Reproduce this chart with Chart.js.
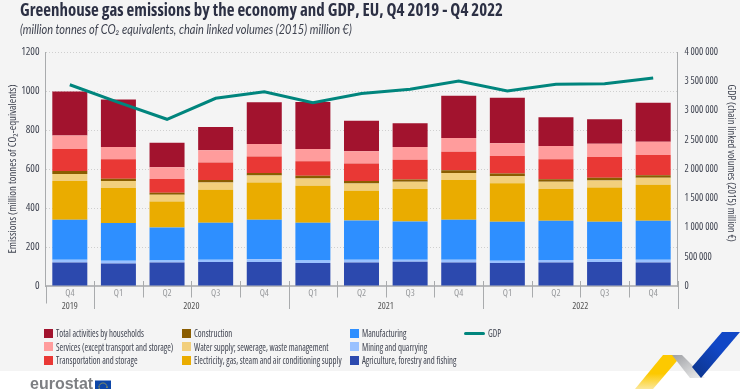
<!DOCTYPE html>
<html>
<head>
<meta charset="utf-8">
<title>Greenhouse gas emissions by the economy and GDP, EU</title>
<script src="https://cdn.jsdelivr.net/npm/chart.js@4"></script>
<style>
  html, body { margin: 0; padding: 0; background: #fff; }
  #page { position: relative; width: 740px; height: 389px; overflow: hidden; background: #fff; font-family: "Open Sans", sans-serif; font-stretch: condensed; color: #3f4350; }
  #panel { position: absolute; left: 0; top: 0; width: 740px; height: 371px; background: #f4f4f4; }
  #chart { position: absolute; left: 0; top: 0; }
  h1 { position: absolute; left: 20px; top: -3px; margin: 0; font-size: 18.5px; line-height: 24px; font-weight: bold; color: #2c3044; white-space: nowrap; transform: scaleX(0.913); transform-origin: left center; }
  #sub { position: absolute; left: 20px; top: 22px; font-family: "Lato", sans-serif; font-stretch: normal; font-style: italic; font-size: 12.5px; line-height: 16px; color: #3f4350; white-space: nowrap; transform: scaleX(0.883); transform-origin: left center; }
  .item { position: absolute; font-size: 10.3px; line-height: 12px; white-space: nowrap; transform: scaleX(0.85); transform-origin: left center; }
  .swatch { position: absolute; width: 9px; height: 9px; }
  .dash { position: absolute; width: 21px; height: 2.5px; border-radius: 2px; }
  #logo { position: absolute; left: 30px; top: 374px; font-family: "Liberation Sans", sans-serif; font-stretch: normal; font-weight: bold; font-size: 16px; line-height: 20px; color: #7d7f83; }
  #art { position: absolute; left: 0; top: 0; }
</style>
</head>
<body>
<div id="page">
  <div id="panel"></div>
  <svg id="art" width="740" height="389">
    <defs>
      <linearGradient id="fade" x1="0" y1="0" x2="0" y2="1">
        <stop offset="0.55" stop-color="#fdc900"/><stop offset="1" stop-color="#fbe79a"/>
      </linearGradient>
      <linearGradient id="grey" x1="0" y1="0" x2="1" y2="1">
        <stop offset="0" stop-color="#9d9fa3"/><stop offset="1" stop-color="#f1f1f1"/>
      </linearGradient>
      <linearGradient id="blue" x1="1" y1="0" x2="0" y2="1">
        <stop offset="0.4" stop-color="#1147c6"/><stop offset="1" stop-color="#0d3488"/>
      </linearGradient>
    </defs>
    <polygon points="635,389 663,355 682,355 653,389" fill="url(#fade)"/>
    <polygon points="672,355 682,355 705,378 690,378" fill="url(#grey)"/>
    <polygon points="722,332 740,332 701,378 692,367" fill="url(#blue)"/>
    <rect x="95" y="380.5" width="16" height="9" fill="#0e47a8"/>
    <circle cx="103" cy="387" r="4" fill="none" stroke="#ffd617" stroke-width="1" stroke-dasharray="1 1.1"/>
  </svg>
  <canvas id="chart" width="740" height="389"></canvas>
  <h1>Greenhouse gas emissions by the economy and GDP, EU, Q4 2019 - Q4 2022</h1>
  <div id="sub">(million tonnes of CO₂ equivalents, chain linked volumes (2015) million €)</div>
  <div id="legend"></div>
  <div id="logo">eurostat</div>
</div>
<script>
const quarters = ["Q4", "Q1", "Q2", "Q3", "Q4", "Q1", "Q2", "Q3", "Q4", "Q1", "Q2", "Q3", "Q4"];
const years = ["2019", "2020", "2020", "2020", "2020", "2021", "2021", "2021", "2021", "2022", "2022", "2022", "2022"];

const agriculture = [121, 116, 121, 123, 123, 118, 121, 125, 121, 118, 121, 123, 121];
const mining = [14, 14, 10, 12, 14, 13, 14, 10, 14, 12, 12, 14, 14];
const manufacturing = [205, 193, 169, 189, 203, 193, 201, 196, 205, 199, 202, 192, 200];
const electricity = [199, 179, 133, 169, 191, 190, 152, 167, 204, 198, 163, 176, 184];
const water = [36, 37, 35, 38, 36, 37, 38, 36, 36, 36, 36, 36, 36];
const construction = [15, 11, 10, 12, 13, 14, 12, 12, 14, 14, 14, 14, 13];
const transport = [113, 100, 71, 90, 84, 75, 90, 101, 95, 90, 102, 107, 104];
const services = [69, 63, 60, 63, 64, 63, 63, 66, 70, 65, 68, 68, 68];
const households = [226, 244, 126, 119, 214, 240, 157, 121, 217, 234, 147, 125, 200];
const gdp = [3440000, 3140000, 2850000, 3208000, 3320000, 3133000, 3290000, 3362000, 3503000, 3332000, 3447000, 3457000, 3555000];

const barSeries = [
  { label: "Agriculture, forestry and fishing", data: agriculture, color: "#2c49ae" },
  { label: "Mining and quarrying", data: mining, color: "#99c1ff" },
  { label: "Manufacturing", data: manufacturing, color: "#2e8fff" },
  { label: "Electricity, gas, steam and air conditioning supply", data: electricity, color: "#eaac00" },
  { label: "Water supply; sewerage, waste management", data: water, color: "#f2cf7c" },
  { label: "Construction", data: construction, color: "#8a5d00" },
  { label: "Transportation and storage", data: transport, color: "#e93835" },
  { label: "Services (except transport and storage)", data: services, color: "#ff9c9c" },
  { label: "Total activities by households", data: households, color: "#a2132e" }
];

// "condensed" goes into the font shorthand through weight, chart.js only checks style
const axisFamily = "'Open Sans', sans-serif";
const axisFont = { family: axisFamily, size: 10.8, weight: "condensed" };
const gdpTickFont = { family: axisFamily, size: 10, weight: "condensed" };
const gdpTitleFont = { family: axisFamily, size: 10.4, weight: "condensed" };
const quarterFont = { family: axisFamily, size: 9.5, weight: "condensed" };
const axisGrey = "#a9abad";

// separators under the axis and the year row
const yearRows = {
  id: "yearRows",
  afterDraw(chart) {
    const ctx = chart.ctx;
    const x = chart.scales.x;
    const step = x.getPixelForTick(1) - x.getPixelForTick(0);
    function sep(px, y0, y1) {
      ctx.beginPath();
      ctx.moveTo(Math.round(px) + 0.5, y0);
      ctx.lineTo(Math.round(px) + 0.5, y1);
      ctx.stroke();
    }
    ctx.save();
    ctx.font = "condensed 9.5px " + axisFamily;
    ctx.fillStyle = "#555";
    ctx.textAlign = "center";
    ctx.textBaseline = "middle";
    ctx.strokeStyle = axisGrey;
    ctx.lineWidth = 1;
    sep(x.left, 286, 303.5);
    let start = 0;
    years.forEach((y, i) => {
      const last = i === years.length - 1 || years[i + 1] !== y;
      sep(x.getPixelForTick(i) + step / 2, 281, last ? 309 : 297.5);
      if (!last) return;
      ctx.fillText(y, (x.getPixelForTick(start) + x.getPixelForTick(i)) / 2, 306.5);
      start = i + 1;
    });
    ctx.restore();
  }
};

const datasets = [
  {
    type: "line",
    label: "GDP",
    data: gdp,
    yAxisID: "y2",
    borderColor: "#00857d",
    borderWidth: 3,
    pointRadius: 0,
    tension: 0,
    order: 0
  }
];
barSeries.forEach(s => {
  datasets.push({
    type: "bar",
    label: s.label,
    data: s.data,
    backgroundColor: s.color,
    yAxisID: "y",
    stack: "emissions",
    categoryPercentage: 1,
    barPercentage: 0.72,
    order: 1
  });
});

new Chart(document.getElementById("chart"), {
  data: { labels: quarters, datasets: datasets },
  options: {
    responsive: false,
    animation: false,
    layout: { padding: { top: 52 } },
    plugins: { legend: { display: false }, title: { display: false }, tooltip: { enabled: false } },
    scales: {
      x: {
        stacked: true,
        offset: true,
        afterFit: s => { s.height = 103; },
        border: { color: "#b9babc", width: 2 },
        grid: { offset: true, drawOnChartArea: false, drawTicks: false },
        ticks: { color: "#97999c", padding: 2, maxRotation: 0, autoSkip: false, font: quarterFont }
      },
      y: {
        stacked: true,
        min: 0,
        max: 1200,
        position: "left",
        afterFit: s => { s.width = 45.5; },
        border: { color: axisGrey, width: 1, dash: [1, 2] },
        grid: { color: "#cfcfcf", drawTicks: false },
        ticks: { stepSize: 200, color: "#3f4350", padding: 6, font: axisFont, callback: v => String(v) },
        title: { display: true, text: "Emissions (million tonnes of CO₂-equivalents)", color: "#3f4350", padding: { top: 6, bottom: 0 }, font: axisFont }
      },
      y2: {
        min: 0,
        max: 4000000,
        position: "right",
        afterFit: s => { s.width = 62.5; },
        border: { color: axisGrey, width: 1 },
        grid: { drawOnChartArea: false, drawTicks: false },
        ticks: {
          stepSize: 500000,
          color: "#3f4350",
          padding: 7,
          font: gdpTickFont,
          callback: v => String(v).replace(/\B(?=(\d{3})+$)/g, " ")
        },
        // trailing spaces move the centred title up to where the original has it
        title: { display: true, text: "GDP (chain linked volumes (2015) million €)\u00a0\u00a0\u00a0\u00a0\u00a0\u00a0", color: "#3f4350", padding: { top: 3, bottom: 0 }, font: gdpTitleFont }
      }
    }
  },
  plugins: [yearRows]
});

// legend is laid out in columns, top to bottom
const legendColumns = [
  { x: 44, names: ["Total activities by households", "Services (except transport and storage)", "Transportation and storage"] },
  { x: 181.5, names: ["Construction", "Water supply; sewerage, waste management", "Electricity, gas, steam and air conditioning supply"] },
  { x: 350, names: ["Manufacturing", "Mining and quarrying", "Agriculture, forestry and fishing"] }
];
const rowY = [333, 346.5, 360];
const legend = document.getElementById("legend");
function addText(text, x, y) {
  const el = document.createElement("div");
  el.className = "item";
  el.textContent = text;
  el.style.left = x + "px";
  el.style.top = y - 6 + "px";
  legend.appendChild(el);
}
legendColumns.forEach(col => {
  col.names.forEach((name, i) => {
    const box = document.createElement("div");
    box.className = "swatch";
    box.style.left = col.x + "px";
    box.style.top = rowY[i] - 4.5 + "px";
    box.style.background = barSeries.find(s => s.label === name).color;
    legend.appendChild(box);
    addText(name, col.x + 12, rowY[i]);
  });
});
const dash = document.createElement("div");
dash.className = "dash";
dash.style.left = "464px";
dash.style.top = "332px";
dash.style.background = "#00857d";
legend.appendChild(dash);
addText("GDP", 488, rowY[0]);
</script>
</body>
</html>
